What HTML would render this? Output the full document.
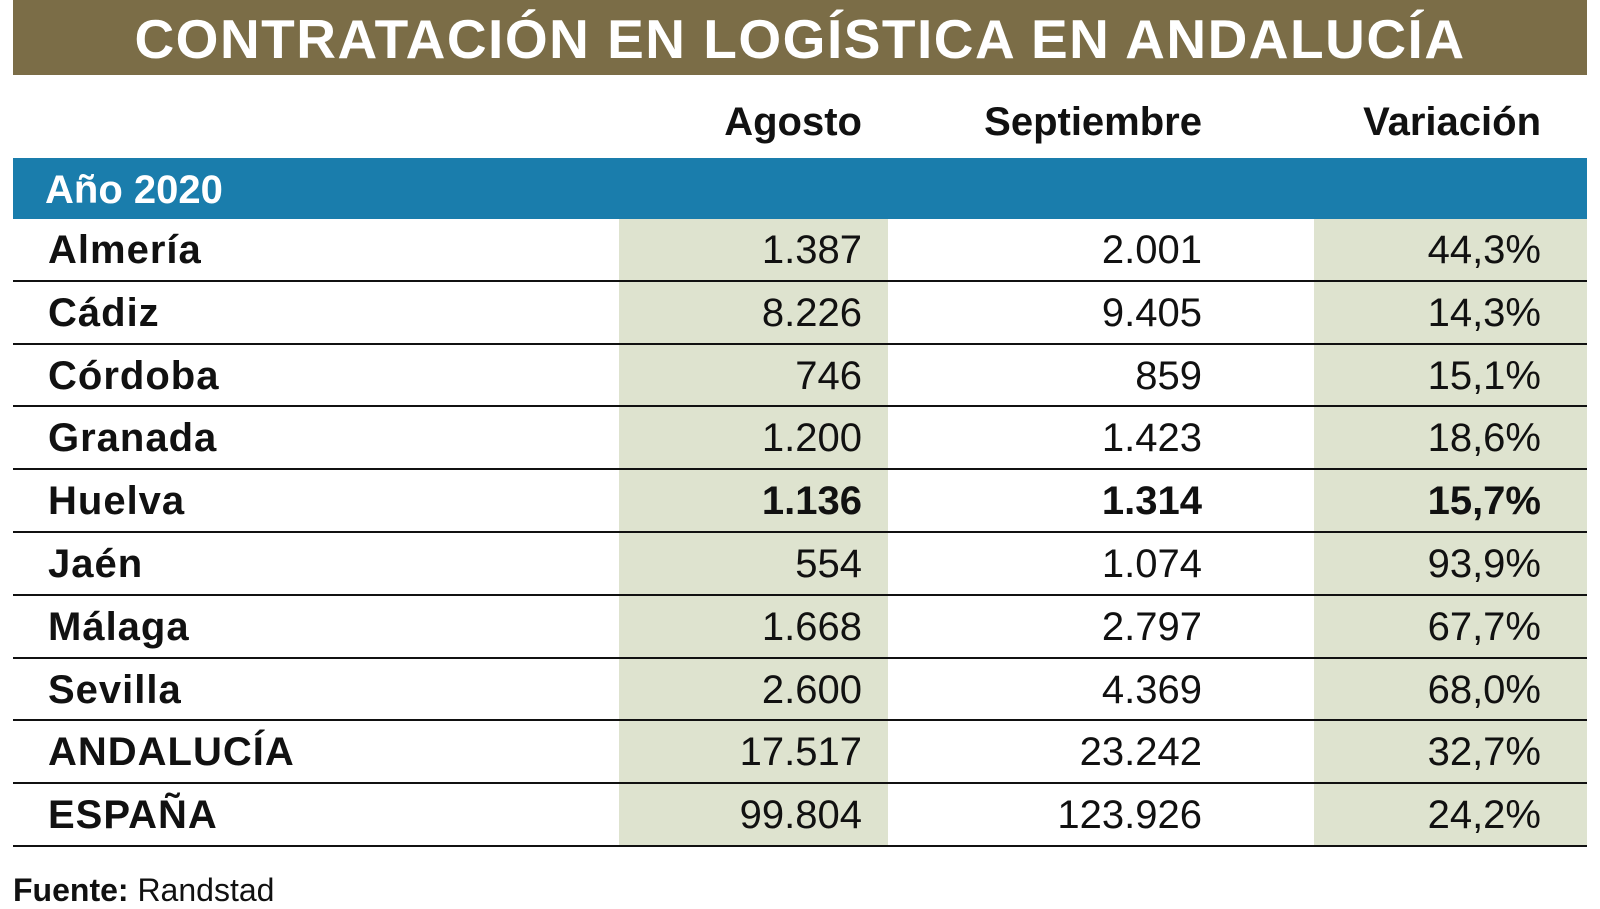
<!DOCTYPE html>
<html><head><meta charset="utf-8"><style>
body{margin:0;width:1600px;height:900px;background:#fff;overflow:hidden;font-family:"Liberation Sans Narrow","Liberation Sans",sans-serif;position:relative;color:#111}
.abs{position:absolute}
#title{left:13px;top:0;width:1574px;height:75px;background:#7b6d47;color:#fff;font-weight:bold;font-size:55px;text-align:center;line-height:78px;letter-spacing:1.5px;font-family:"Liberation Sans",sans-serif}
.hdr{top:100px;font-size:40px;font-weight:bold;text-align:right;width:300px}
#band{left:13px;top:158px;width:1574px;height:61px;background:#1a7dac;color:#fff;font-weight:bold;font-size:40px;line-height:64px}
.shade{top:219px;height:626px;background:#dee3cf}
.row{left:13px;width:1574px;height:62.8px;border-bottom:2.5px solid #111;box-sizing:border-box}
.row span{position:absolute;font-size:40px;line-height:62px}
.lab{left:35px;font-weight:bold;letter-spacing:1px}
.num{text-align:right;width:300px}
</style></head><body>
<div class="abs" id="title">CONTRATACIÓN EN LOGÍSTICA EN ANDALUCÍA</div>
<div class="abs hdr" style="left:562px">Agosto</div>
<div class="abs hdr" style="left:902px">Septiembre</div>
<div class="abs hdr" style="left:1241px">Variación</div>
<div class="abs" id="band"><span style="margin-left:32px">Año 2020</span></div>
<div class="abs shade" style="left:619px;width:269px"></div>
<div class="abs shade" style="left:1314px;width:273px"></div>
<div id="rows"></div>
<div class="abs" style="left:13px;top:872px;font-size:32px"><b>Fuente:</b> Randstad</div>
<script>
const regions=["Almería","Cádiz","Córdoba","Granada","Huelva","Jaén","Málaga","Sevilla","ANDALUCÍA","ESPAÑA"];
const agosto=["1.387","8.226","746","1.200","1.136","554","1.668","2.600","17.517","99.804"];
const septiembre=["2.001","9.405","859","1.423","1.314","1.074","2.797","4.369","23.242","123.926"];
const variacion=["44,3%","14,3%","15,1%","18,6%","15,7%","93,9%","67,7%","68,0%","32,7%","24,2%"];
const boldIdx=4;
const c=document.getElementById('rows');
regions.forEach((r,i)=>{
  const row=document.createElement('div');
  row.className='abs row';
  row.style.top=(219+i*62.8)+'px';
  
  
  const w=i===boldIdx?'bold':'normal';
  row.innerHTML=`<span class="lab">${r}</span><span class="num" style="left:549px;font-weight:${w}">${agosto[i]}</span><span class="num" style="left:889px;font-weight:${w}">${septiembre[i]}</span><span class="num" style="left:1228px;font-weight:${w}">${variacion[i]}</span>`;
  c.appendChild(row);
});
</script>
</body></html>
